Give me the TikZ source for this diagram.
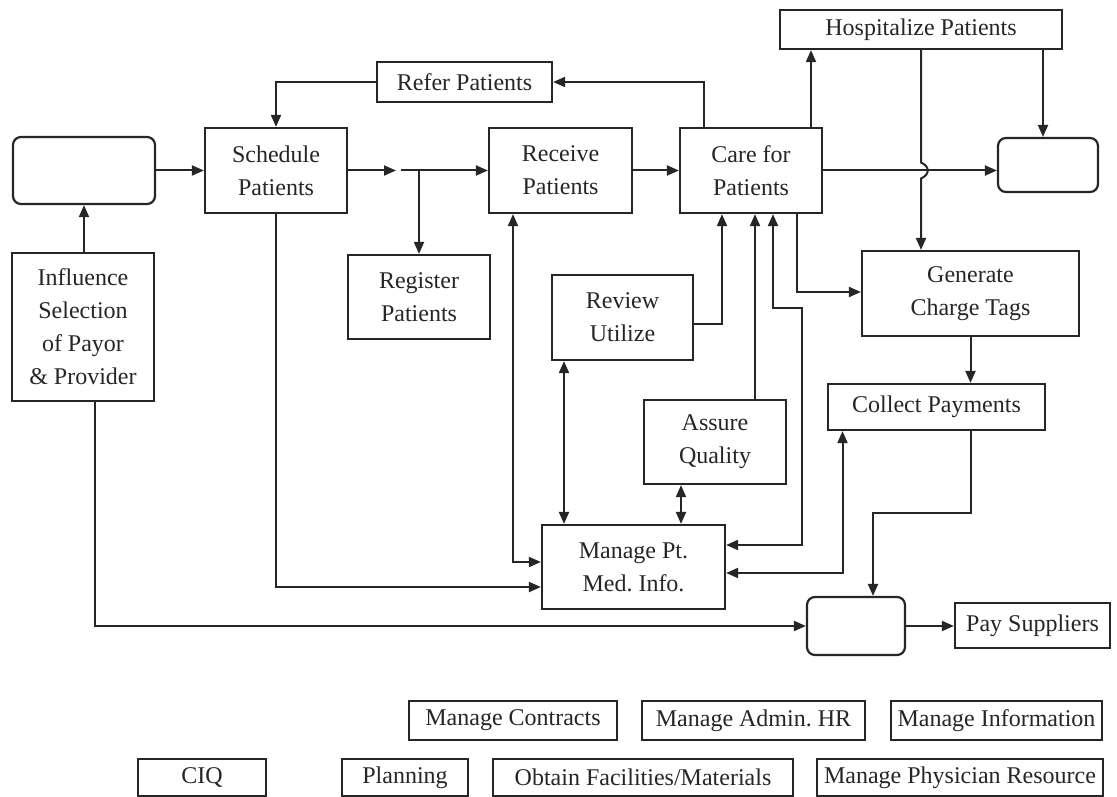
\documentclass[tikz,border=0pt]{standalone}
\usepackage{fontspec}
\setmainfont{Liberation Serif}
\usetikzlibrary{arrows.meta,calc}
\definecolor{ink}{HTML}{262626}
\frenchspacing
\begin{document}
\begin{tikzpicture}[x=1pt,y=-1pt,
  every node/.style={font=\fontsize{24}{33}\selectfont,text=ink},
  box/.style={draw=ink,line width=2.2pt,align=center,inner sep=0pt,fill=white},
  rbox/.style={box,rounded corners=8pt},
  tip/.tip={Triangle[length=12pt,width=10pt]},
  link/.style={draw=ink,line width=2pt,-tip},
  both/.style={draw=ink,line width=2pt,tip-tip}]

\useasboundingbox (0,0) rectangle (1117,797);

% process boxes
\node[rbox,minimum width=142pt,minimum height=67pt] (start) at (84,170.5) {};
\node[box,minimum width=142pt,minimum height=85pt] (sched) at (276,170.5) {Schedule\\Patients};
\node[box,minimum width=175pt,minimum height=40pt] (refer) at (464.5,82) {Refer Patients};
\node[box,minimum width=143pt,minimum height=85pt] (recv) at (560.5,170.5) {Receive\\Patients};
\node[box,minimum width=142pt,minimum height=85pt] (care) at (751,170.5) {Care for\\Patients};
\node[box,minimum width=282pt,minimum height=39pt] (hosp) at (921,29.5) {Hospitalize Patients};
\node[rbox,minimum width=100pt,minimum height=54pt] (end) at (1048,165) {};
\node[box,minimum width=142pt,minimum height=148pt] (influence) at (83,327) {Influence\\Selection\\of Payor\\\& Provider};
\node[box,minimum width=142pt,minimum height=84pt] (register) at (419,297) {Register\\Patients};
\node[box,minimum width=141pt,minimum height=85pt] (review) at (622.5,317.5) {Review\\Utilize};
\node[box,minimum width=142pt,minimum height=84pt] (assure) at (715,442) {Assure\\Quality};
\node[box,minimum width=183pt,minimum height=84pt] (manage) at (633.5,567) {Manage Pt.\\Med. Info.};
\node[box,minimum width=217pt,minimum height=85pt] (generate) at (970.5,293.5) {Generate\\Charge Tags};
\node[box,minimum width=217pt,minimum height=46pt] (collect) at (936.5,407) {Collect Payments};
\node[rbox,minimum width=98pt,minimum height=58pt] (pay) at (856,626) {};
\node[box,minimum width=155pt,minimum height=45pt] (paysup) at (1032.5,625.5) {Pay Suppliers};

% support activities
\node[box,minimum width=208pt,minimum height=39pt] (contracts) at (513,720.5) {Manage Contracts};
\node[box,minimum width=223pt,minimum height=39pt] (adminhr) at (753.5,720.5) {Manage Admin. HR};
\node[box,minimum width=211pt,minimum height=39pt] (info) at (996.5,720.5) {Manage Information};
\node[box,minimum width=128pt,minimum height=37pt] (ciq) at (202,777.5) {CIQ};
\node[box,minimum width=126pt,minimum height=37pt] (planning) at (405,777.5) {Planning};
\node[box,minimum width=300pt,minimum height=37pt] (obtain) at (643,777.5) {Obtain Facilities/Materials};
\node[box,minimum width=286pt,minimum height=37pt] (physician) at (960,777.5) {Manage Physician Resource};

% bend points and free ends
\coordinate (gapL) at (396,170.5);
\coordinate (gapR) at (401,170.5);
\coordinate (qa) at (802,308);
\coordinate (cp) at (971,513);

% main flow
\draw[link] (start) -- (sched);
\draw[link] (sched.east) -- (gapL);
\draw[link] (gapR) -- (recv.west);
\draw[link] (gapR -| register.north) -- (register.north);
\draw[link] (recv) -- (care);
\draw[link] (care.east) -- (care.east -| end.west);

% hospitalization branch, hopping over the care line
\draw[link] (hosp.south)
  -- ($(hosp.south |- care.east)+(0,-8)$)
  .. controls ($(hosp.south |- care.east)+(9,-4)$) and ($(hosp.south |- care.east)+(9,4)$) ..
  ($(hosp.south |- care.east)+(0,8)$)
  -- (hosp.south |- generate.north);
\draw[link] ($(hosp.south)+(122,0)$) coordinate (h2) -- (h2 |- end.north);
\draw[link] ($(care.north)+(60,0)$) coordinate (c2) -- (c2 |- hosp.south);

% referrals
\draw[link] ($(care.north)+(-47,0)$) |- (refer.east);
\draw[link] (refer.west) -| (sched.north);

% payor and provider
\draw[link] (start.south |- influence.north) -- (start.south);
\draw[link] ($(influence.south)+(12,0)$) |- (pay.west);
\draw[link] (pay.east) -- (pay.east -| paysup.west);

% medical information
\draw[link] (sched.south) |- ($(manage.west)+(0,20)$);
\draw[both] ($(recv.south)+(-47.5,0)$) |- ($(manage.west)+(0,-5)$);
\draw[both] ($(review.south)+(-58.5,0)$) coordinate (r1) -- (r1 |- manage.north);
\draw[both] ($(assure.south)+(-34,0)$) coordinate (a1) -- (a1 |- manage.north);
\draw[link] ($(review.east)+(0,6.5)$) -| ($(care.south)+(-29,0)$);
\draw[link] ($(assure.north)+(40,0)$) coordinate (a2) -- (a2 |- care.south);
\draw[both] ($(manage.east)+(0,-22)$) -| (qa) -| ($(care.south)+(22,0)$);
\draw[both] ($(manage.east)+(0,6)$) -| ($(collect.south)+(-94,0)$);

% charges and payments
\draw[link] ($(care.south)+(46,0)$) |- ($(generate.west)+(0,-1.5)$);
\draw[link] (generate.south) -- (generate.south |- collect.north);
\draw[link] (cp |- collect.south) -- (cp) -| ($(pay.north)+(17,0)$);

\end{tikzpicture}
\end{document}
